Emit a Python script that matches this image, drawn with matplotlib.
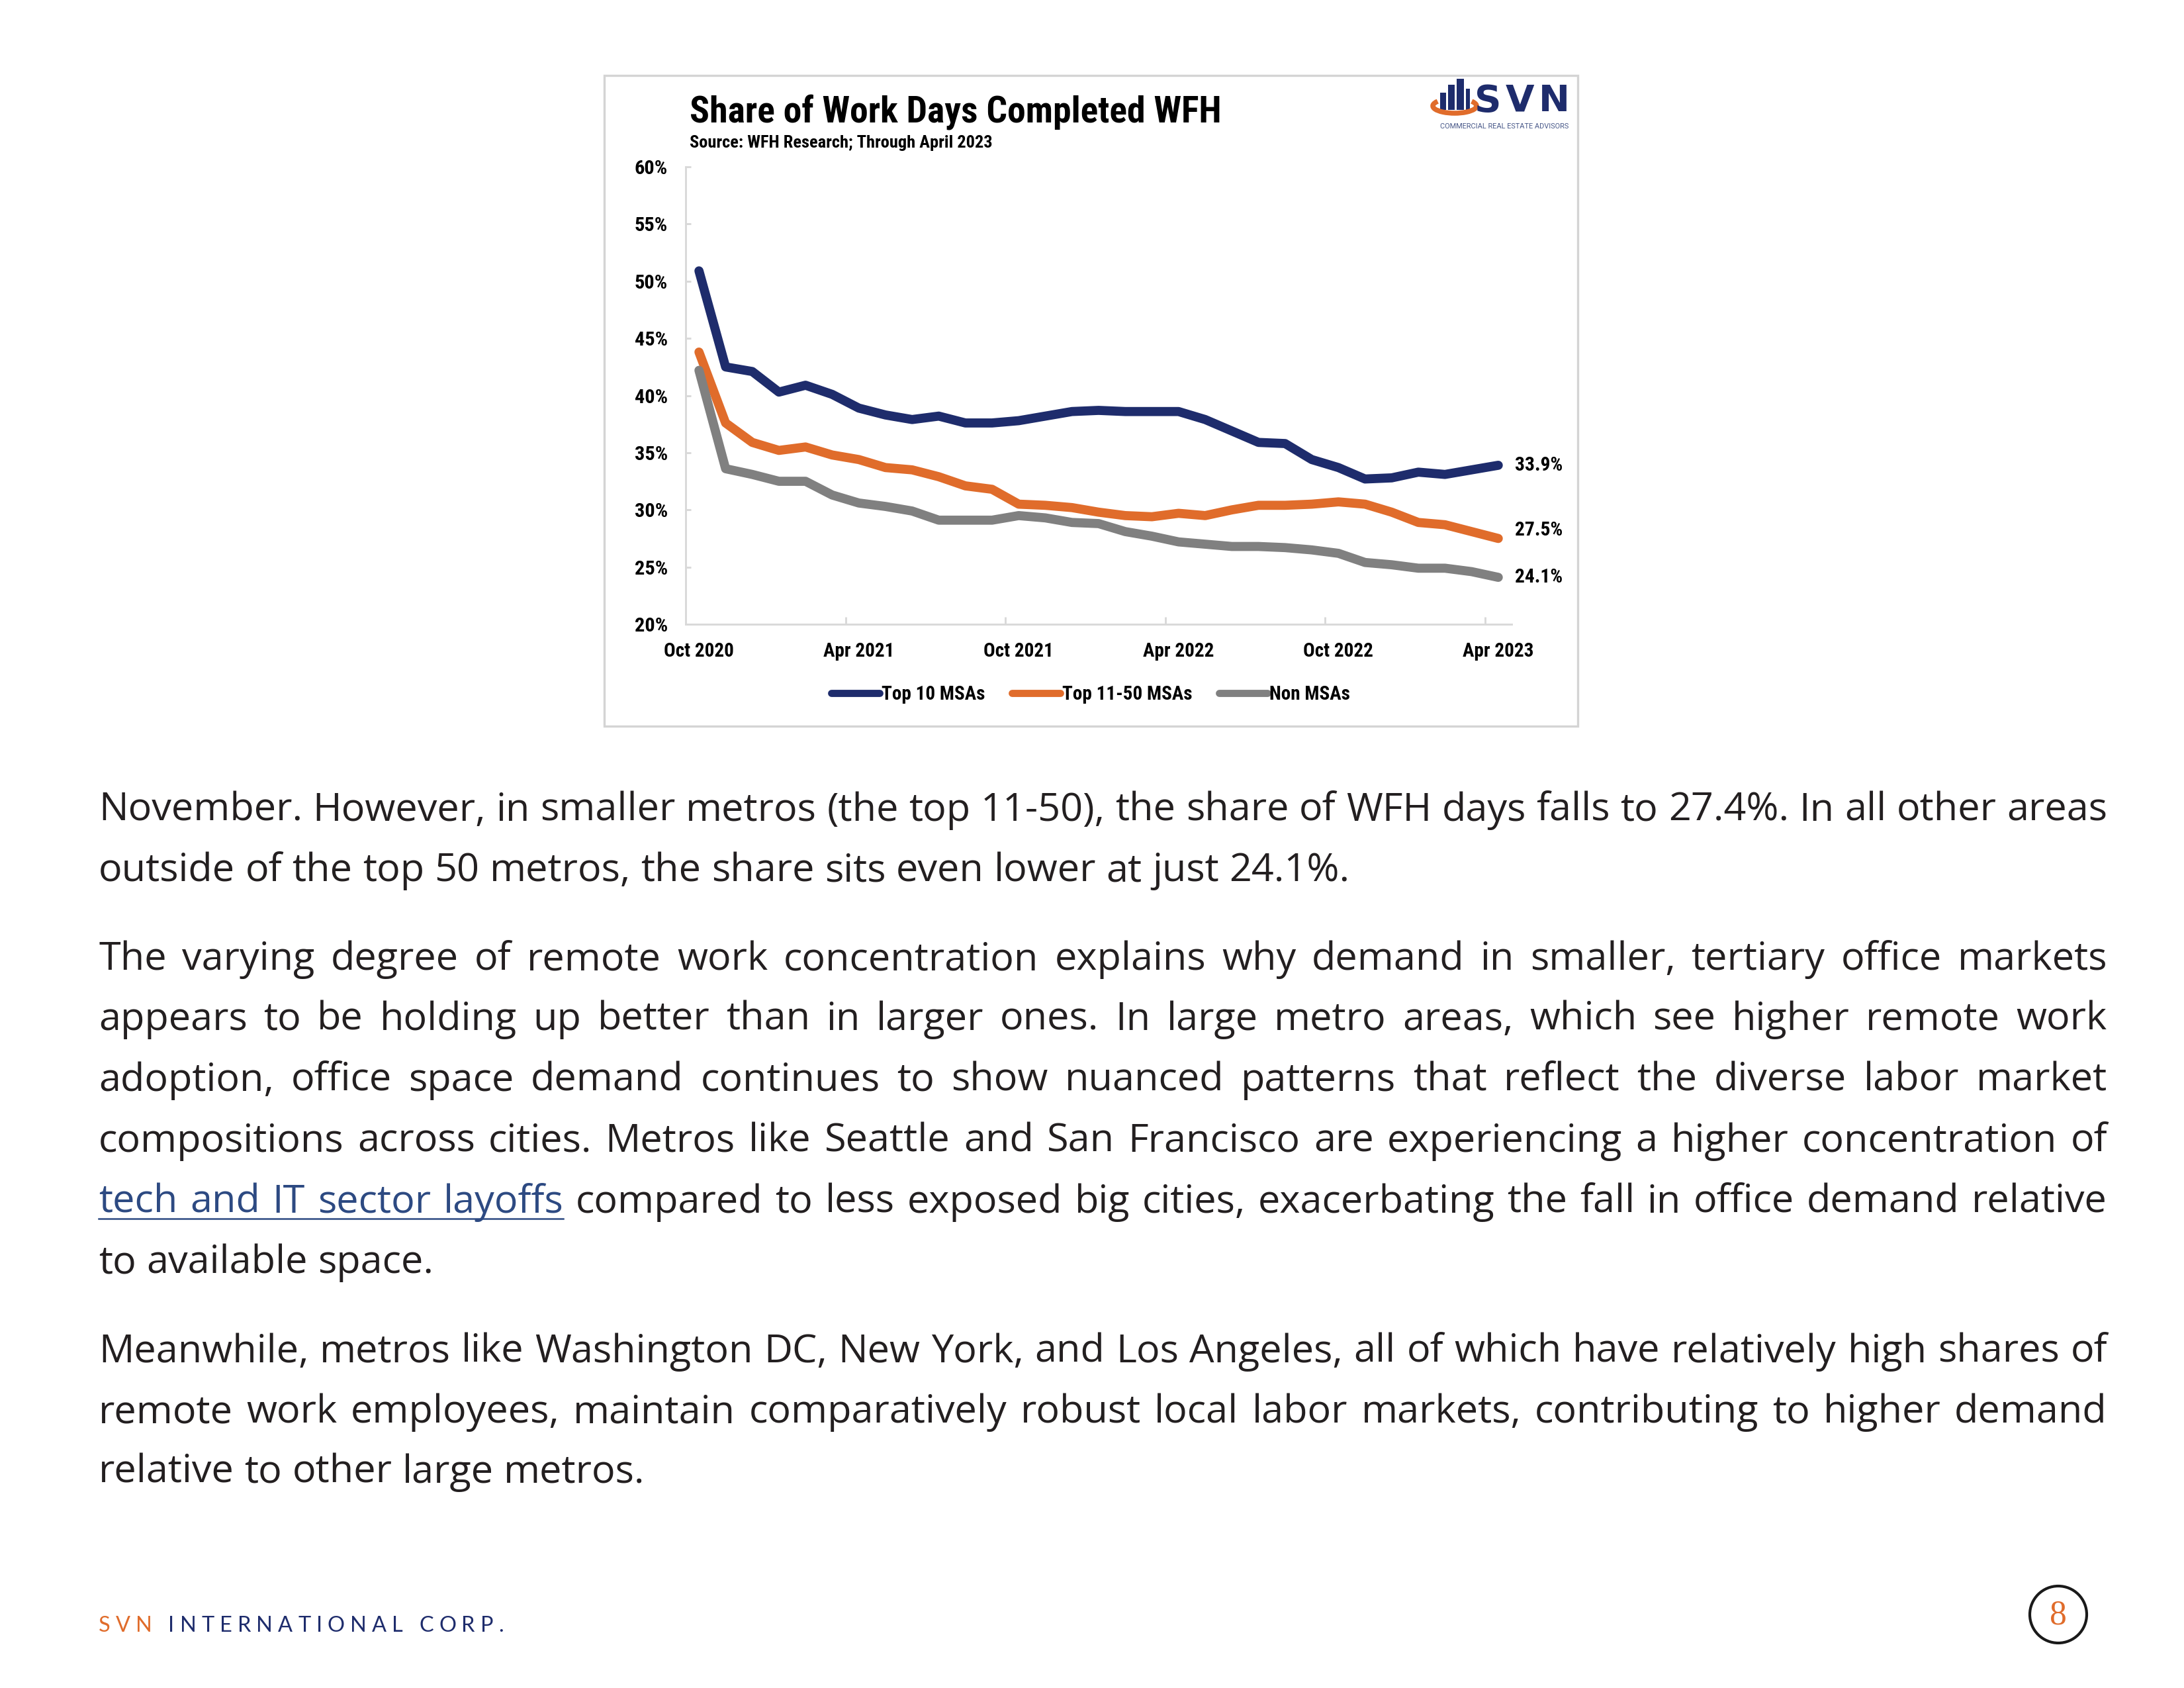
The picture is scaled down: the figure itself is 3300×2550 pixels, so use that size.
import numpy as np
import pandas as pd
import matplotlib
matplotlib.use('Agg')
from matplotlib import pyplot as plt
from matplotlib import font_manager
from matplotlib.patches import Rectangle, Circle, Arc
from matplotlib.font_manager import FontProperties
from matplotlib.ticker import FixedLocator

# ---- data (monthly Oct 2020 - Apr 2023) ----
months = pd.date_range('2020-10-01', '2023-04-01', freq='MS')
top10 = [50.9, 42.5, 42.1, 40.3, 40.9, 40.1, 38.9, 38.3, 37.9, 38.2, 37.6,
         37.6, 37.8, 38.2, 38.6, 38.7, 38.6, 38.6, 38.6, 37.9, 36.9, 35.9,
         35.8, 34.4, 33.7, 32.7, 32.8, 33.3, 33.1, 33.5, 33.9]
top11_50 = [43.8, 37.6, 35.9, 35.2, 35.5, 34.8, 34.4, 33.7, 33.5, 32.9, 32.1,
            31.8, 30.5, 30.4, 30.2, 29.8, 29.5, 29.4, 29.7, 29.5, 30.0, 30.4,
            30.4, 30.5, 30.7, 30.5, 29.8, 28.9, 28.7, 28.1, 27.5]
non_msa = [42.2, 33.6, 33.1, 32.5, 32.5, 31.3, 30.6, 30.3, 29.9, 29.1, 29.1,
           29.1, 29.5, 29.3, 28.9, 28.8, 28.1, 27.7, 27.2, 27.0, 26.8, 26.8,
           26.7, 26.5, 26.2, 25.4, 25.2, 24.9, 24.9, 24.6, 24.1]
series_names = ['Top 10 MSAs', 'Top 11-50 MSAs', 'Non MSAs']
y_ticks = [20, 25, 30, 35, 40, 45, 50, 55, 60]

title = 'Share of Work Days Completed WFH'
subtitle = 'Source: WFH Research; Through April 2023'

paragraphs = [
    ['November. However, in smaller metros (the top 11-50), the share of WFH days falls to 27.4%. In all other areas',
     'outside of the top 50 metros, the share sits even lower at just 24.1%.'],
    ['The varying degree of remote work concentration explains why demand in smaller, tertiary office markets',
     'appears to be holding up better than in larger ones. In large metro areas, which see higher remote work',
     'adoption, office space demand continues to show nuanced patterns that reflect the diverse labor market',
     'compositions across cities. Metros like Seattle and San Francisco are experiencing a higher concentration of',
     'tech and IT sector layoffs compared to less exposed big cities, exacerbating the fall in office demand relative',
     'to available space.'],
    ['Meanwhile, metros like Washington DC, New York, and Los Angeles, all of which have relatively high shares of',
     'remote work employees, maintain comparatively robust local labor markets, contributing to higher demand',
     'relative to other large metros.'],
]
link_text = 'tech and IT sector layoffs'
logo_name = 'SVN'
logo_tag = 'COMMERCIAL REAL ESTATE ADVISORS'
footer_svn = 'SVN'
footer_rest = ' INTERNATIONAL CORP.'
page_number = '8'

# ---- style ----
W, H = 3300, 2550
NAVY = '#1e2c6c'
ORANGE = '#e06c2b'
GRAY = '#808080'
AXIS_GRAY = '#d9d9d9'
TEXT = '#231f20'
LINK = '#2d4a82'
BODY_FONT = ['Open Sans', 'DejaVu Sans']


def narrow_font():
    for fam in ['Liberation Sans Narrow', 'Roboto Condensed']:
        try:
            font_manager.findfont(FontProperties(family=fam, weight='bold'),
                                  fallback_to_default=False)
            return fam
        except ValueError:
            pass
    return 'Roboto'


CHART_FONT = [narrow_font(), 'DejaVu Sans']
plt.rcParams['font.family'] = CHART_FONT
plt.rcParams['font.weight'] = 'bold'

fig = plt.figure(figsize=(11, 8.5), dpi=300)
renderer = fig.canvas.get_renderer()

# page layer in pixel coordinates (y down)
page = fig.add_axes([0, 0, 1, 1], zorder=0)
page.set_xlim(0, W)
page.set_ylim(H, 0)
page.axis('off')


def text_width(s, **kw):
    t = page.text(0, 0, s, **kw)
    w = t.get_window_extent(renderer).width
    t.remove()
    return w


def fit_size(s, target, **kw):
    return 10.0 * target / text_width(s, fontsize=10, **kw)


def tracked_text(s, x0, x1, y, colors, **kw):
    widths = [text_width(c, **kw) if c != ' ' else
              text_width('n n', **kw) - text_width('nn', **kw) for c in s]
    track = (x1 - x0 - sum(widths)) / (len(s) - 1)
    xpos = x0
    for c, w, col in zip(s, widths, colors):
        page.text(xpos, y, c, color=col, va='baseline', **kw)
        xpos += w + track


# chart frame
page.add_patch(Rectangle((913, 114), 1471, 983, fill=False, ec='#d4d4d4', lw=0.8))

# title block
page.text(1042, 184, title, va='baseline', color='black', fontweight='heavy',
          fontsize=fit_size(title, 804, fontweight='heavy'))
page.text(1042, 223, subtitle, va='baseline', color='black',
          fontsize=fit_size(subtitle, 460))

# SVN logo
for bx0, bx1, btop in [(2176, 2185, 140), (2188, 2198, 128), (2201, 2212, 119), (2215, 2221, 134)]:
    page.add_patch(Rectangle((bx0, btop), bx1 - bx0, 166 - btop, fc=NAVY, ec='none'))
page.add_patch(Arc((2198, 160), 66, 22, theta1=-15, theta2=195, color=ORANGE, lw=1.8))
tracked_text(logo_name, 2228, 2372, 168, [NAVY] * 3, fontsize=13.5,
             family=['DejaVu Sans'], fontweight='bold')
page.text(2176, 194, logo_tag, va='baseline', color='#4a5a8a', family=['Roboto', 'DejaVu Sans'],
          fontweight='normal', fontsize=fit_size(logo_tag, 196, family=['Roboto', 'DejaVu Sans'],
                                                 fontweight='normal'))

# ---- chart ----
ax = fig.add_axes([1036 / W, 1 - 943 / H, (2284 - 1036) / W, (943 - 252) / H], zorder=1)
ax.set_facecolor('none')
x = np.arange(len(months))
label_dy = [0, 3, 0]
for vals, name, color, dy in zip([top10, top11_50, non_msa], series_names,
                                 [NAVY, ORANGE, GRAY], label_dy):
    ax.plot(x, vals, color=color, lw=3.3, solid_capstyle='round',
            solid_joinstyle='round', label=name)
    ax.annotate(f'{vals[-1]:.1f}%', (x[-1], vals[-1]), xytext=(6, dy),
                textcoords='offset points', va='center', ha='left', fontsize=7.1)

ax.set_xlim(-0.5, len(months) - 0.5)
ax.set_ylim(20, 60)
ax.set_yticks(y_ticks)
ax.set_yticklabels([f'{t}%' for t in y_ticks], fontsize=7.3)
label_idx = x[::6]
ax.set_xticks(label_idx)
ax.set_xticklabels([months[i].strftime('%b %Y') for i in label_idx], fontsize=7.0)
ax.xaxis.set_minor_locator(FixedLocator(label_idx[1:] - 0.5))
ax.tick_params(axis='x', which='major', length=0, pad=6.5)
ax.tick_params(axis='x', which='minor', direction='in', length=2.6, color=AXIS_GRAY, width=0.7)
ax.tick_params(axis='y', direction='in', length=2, color=AXIS_GRAY, width=0.7, pad=6.5)
for s in ['top', 'right']:
    ax.spines[s].set_visible(False)
for s in ['left', 'bottom']:
    ax.spines[s].set_color(AXIS_GRAY)
    ax.spines[s].set_linewidth(0.7)

leg = ax.legend(loc='center', bbox_to_anchor=(1648 / W, 1 - 1049 / H),
                bbox_transform=fig.transFigure, ncol=3, frameon=False, fontsize=7.0,
                handlelength=2.5, handletextpad=0.1, columnspacing=1.4)
for h in leg.get_lines():
    h.set_linewidth(2.6)

# ---- body text ----
LEFT, RIGHT = 149, 3184
body_kw = dict(family=BODY_FONT, fontweight='normal')
body_kw['fontsize'] = fit_size(paragraphs[0][1], 1892, **body_kw)
space_w = text_width('n n', **body_kw) - text_width('nn', **body_kw)
baselines = [[1240, 1331], [1465, 1556, 1648, 1740, 1832, 1923], [2058, 2149, 2240]]

for lines, ys in zip(paragraphs, baselines):
    for i, (line, y) in enumerate(zip(lines, ys)):
        words = line.split(' ')
        widths = [text_width(w, **body_kw) for w in words]
        last = i == len(lines) - 1
        gap = space_w if last else (RIGHT - LEFT - sum(widths)) / (len(words) - 1)
        n_link = len(link_text.split(' ')) if line.startswith(link_text) else 0
        xpos = LEFT
        for j, (w, ww) in enumerate(zip(words, widths)):
            page.text(xpos, y, w, color=LINK if j < n_link else TEXT, va='baseline', **body_kw)
            if j == n_link - 1:
                page.plot([LEFT, xpos + ww], [y + 9, y + 9], color=LINK, lw=0.6)
            xpos += ww + gap

# ---- footer ----
footer = footer_svn + footer_rest
tracked_text(footer, 149, 761, 2465,
             [ORANGE] * len(footer_svn) + [NAVY] * len(footer_rest),
             fontsize=7.8, family=['Lato', 'DejaVu Sans'], fontweight='normal')

page.add_patch(Circle((3110, 2439), 43, fill=False, ec='#1a1a1a', lw=1.0))
page.text(3110, 2441, page_number, fontsize=12.4, family=['Liberation Serif', 'DejaVu Serif'],
          fontweight='normal', color=ORANGE, ha='center', va='center')

fig.savefig('out.png', dpi=300, facecolor='white')
